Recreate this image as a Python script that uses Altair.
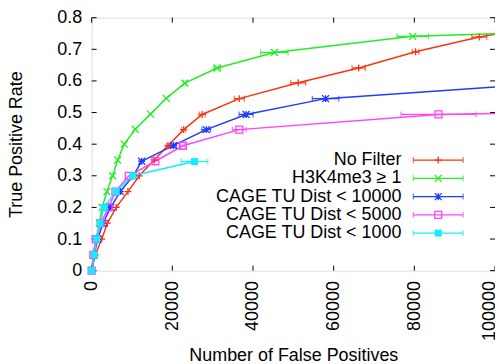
import altair as alt
import pandas as pd

series_names = ["No Filter", "H3K4me3 ≥ 1", "CAGE TU Dist < 10000",
                "CAGE TU Dist < 5000", "CAGE TU Dist < 1000"]
series_colors = ["#ff3311", "#22ee22", "#1f3cff", "#ff44ff", "#11eeff"]

# No Filter
red_x = [0, 900, 2500, 3900, 6100, 9000, 11800, 15500, 18900, 22800, 27400, 36600, 51200, 66200, 80300, 96100]
red_y = [0, 0.05, 0.1, 0.15, 0.2, 0.25, 0.3, 0.35, 0.395, 0.446, 0.494, 0.544, 0.594, 0.641, 0.692, 0.739]
red_err = [0, 0, 0, 0, 0, 0, 0, 0, 300, 500, 750, 1250, 1850, 1650, 850, 1850]
# H3K4me3 >= 1
green_x = [0, 420, 1100, 1900, 2600, 3800, 5200, 6450, 8100, 10800, 14600, 18500, 23100, 31100, 45300, 79600]
green_y = [0, 0.05, 0.1, 0.15, 0.2, 0.25, 0.3, 0.35, 0.4, 0.447, 0.495, 0.545, 0.593, 0.641, 0.69, 0.741]
green_err = [0, 0, 0, 0, 0, 0, 0, 0, 0, 0, 0, 0, 300, 800, 3400, 3900]
# CAGE TU Dist < 10000
blue_x = [0, 600, 1500, 2800, 4700, 7100, 10300, 12400, 20300, 28400, 38300, 58000]
blue_y = [0, 0.05, 0.1, 0.15, 0.2, 0.25, 0.3, 0.346, 0.396, 0.446, 0.494, 0.544]
blue_err = [0, 0, 0, 0, 0, 0, 0, 0, 700, 1100, 1750, 3300]
# CAGE TU Dist < 5000
pink_x = [0, 420, 1000, 2250, 4200, 5900, 9200, 15800, 22600, 36600, 86000]
pink_y = [0, 0.05, 0.1, 0.15, 0.2, 0.25, 0.3, 0.346, 0.395, 0.446, 0.494]
pink_err = [0, 0, 0, 0, 0, 0, 0, 0, 600, 1700, 9300]
# CAGE TU Dist < 1000
cyan_x = [0, 600, 1240, 2080, 3080, 6050, 10170, 25500]
cyan_y = [0, 0.05, 0.1, 0.15, 0.2, 0.25, 0.3, 0.345]
cyan_err = [0, 0, 0, 0, 0, 0, 0, 3300]

# where each line leaves the plot on the right edge (no marker there)
edge_x = [100000, 100000, 100000, 100000]
edge_y = [0.748, 0.749, 0.581, 0.497]

x_ticks = [0, 20000, 40000, 60000, 80000, 100000]
y_ticks = [0, 0.1, 0.2, 0.3, 0.4, 0.5, 0.6, 0.7, 0.8]

all_x = [red_x, green_x, blue_x, pink_x, cyan_x]
all_y = [red_y, green_y, blue_y, pink_y, cyan_y]
all_e = [red_err, green_err, blue_err, pink_err, cyan_err]

pts_rows, line_rows = [], []
for s, xs, ys, es in zip(series_names, all_x, all_y, all_e):
    for i, (x, y, e) in enumerate(zip(xs, ys, es)):
        pts_rows.append({"series": s, "x": x, "y": y, "xlo": x - e, "xhi": x + e, "err": e})
        line_rows.append({"series": s, "x": x, "y": y, "i": i})
for s, x, y in zip(series_names, edge_x, edge_y):
    line_rows.append({"series": s, "x": x, "y": y, "i": 999})
pts = pd.DataFrame(pts_rows)
lines = pd.DataFrame(line_rows)
errs = pts[pts["err"] > 0]
caps = pd.concat([
    errs[["series", "y", "xlo"]].rename(columns={"xlo": "cx"}),
    errs[["series", "y", "xhi"]].rename(columns={"xhi": "cx"}),
])

FONT = "Liberation Sans"
xscale = alt.Scale(domain=[0, 100000], nice=False, zero=False)
yscale = alt.Scale(domain=[0, 0.8], nice=False, zero=False)
cscale = alt.Scale(domain=series_names, range=series_colors)

W, H = 405, 254

xaxis = alt.Axis(
    values=x_ticks, format="d", labelAngle=-90, labelAlign="right", labelBaseline="middle",
    labelPadding=10, ticks=False, domain=False, grid=False,
    labelOffset={"condition": {"test": "datum.value == 100000", "value": -5}, "value": 0},
    title="Number of False Positives", titleX=W / 2, titleY=90,
    titleBaseline="alphabetic", titleAlign="center", titleFontWeight="normal",
    labelFontSize=18, titleFontSize=18, labelFont=FONT, titleFont=FONT,
    labelColor="black", titleColor="black", labelFlush=False, labelOverlap=False)
yaxis = alt.Axis(
    values=y_ticks, format=".1~f", labelPadding=10, ticks=False, domain=False, grid=False,
    title="True Positive Rate", titleX=-75, titleY=H / 2, titleAngle=270,
    titleBaseline="middle", titleAlign="center", titleFontWeight="normal",
    labelFontSize=18, titleFontSize=18, labelFont=FONT, titleFont=FONT,
    labelColor="black", titleColor="black", labelFlush=False, labelOverlap=False)
col = alt.Color("series:N", scale=cscale, legend=None)


def X(field):
    return alt.X(field, scale=xscale, axis=xaxis)


def Y(field):
    return alt.Y(field, scale=yscale, axis=yaxis)


line_layer = alt.Chart(lines).mark_line(strokeWidth=1.5).encode(
    x=X("x:Q"), y=Y("y:Q"), color=col, order="i:Q", detail="series:N")

err_layer = alt.Chart(errs).mark_rule(strokeWidth=1.2).encode(
    x=X("xlo:Q"), x2="xhi:Q", y=Y("y:Q"), color=col)
cap_layer = alt.Chart(caps).mark_tick(orient="vertical", size=6, thickness=1.2).encode(
    x=X("cx:Q"), y=Y("y:Q"), color=col)

marker_paths = [
    "M-1,0H1M0,-1V1",
    "M-1,-1L1,1M-1,1L1,-1",
    "M-1,0H1M0,-1V1M-1,-1L1,1M-1,1L1,-1",
    "M-1,-1H1V1H-1Z",
    "M-1,-1H1V1H-1Z",
]
marker_filled = [False, False, False, False, True]
point_layers = []
for s, p, f in zip(series_names, marker_paths, marker_filled):
    point_layers.append(
        alt.Chart(pts[pts["series"] == s]).mark_point(
            shape=p, size=49, filled=f, strokeWidth=1.3, opacity=1).encode(
            x=X("x:Q"), y=Y("y:Q"), color=col))

tick_x_df = pd.DataFrame({"v": x_ticks})
tick_y_df = pd.DataFrame({"v": y_ticks})
tb = alt.Chart(tick_x_df).mark_rule(color="black", strokeWidth=1).encode(
    x=X("v:Q"), y=alt.value(H), y2=alt.value(H - 5))
tt = alt.Chart(tick_x_df).mark_rule(color="black", strokeWidth=1).encode(
    x=X("v:Q"), y=alt.value(0), y2=alt.value(5))
tl = alt.Chart(tick_y_df).mark_rule(color="black", strokeWidth=1).encode(
    y=Y("v:Q"), x=alt.value(0), x2=alt.value(5))
tr = alt.Chart(tick_y_df).mark_rule(color="black", strokeWidth=1).encode(
    y=Y("v:Q"), x=alt.value(W), x2=alt.value(W - 5))

main = alt.layer(line_layer, tb, tt, tl, tr, err_layer, cap_layer, *point_layers)

# ---- key (legend) inside the plot, top right: label, then line sample with error bar
leg_df = pd.DataFrame({"series": series_names})
rowY = alt.Y("series:N", scale=alt.Scale(type="point", domain=series_names,
                                         range=[143, 216.3], padding=0), axis=None)
leg_text = alt.Chart(leg_df).mark_text(
    align="right", baseline="middle", fontSize=18, font=FONT, color="black").encode(
    x=alt.value(311), y=rowY, text="series:N")
leg_rule = alt.Chart(leg_df).mark_rule(strokeWidth=1.2).encode(
    x=alt.value(323), x2=alt.value(373), y=rowY, color=col)
leg_cap1 = alt.Chart(leg_df).mark_tick(orient="vertical", size=6, thickness=1.2).encode(
    x=alt.value(323), y=rowY, color=col)
leg_cap2 = alt.Chart(leg_df).mark_tick(orient="vertical", size=6, thickness=1.2).encode(
    x=alt.value(373), y=rowY, color=col)
leg_marks = []
for s, p, f in zip(series_names, marker_paths, marker_filled):
    leg_marks.append(
        alt.Chart(leg_df[leg_df["series"] == s]).mark_point(
            shape=p, size=49, filled=f, strokeWidth=1.3, opacity=1).encode(
            x=alt.value(348), y=rowY, color=col))
key = alt.layer(leg_text, leg_rule, leg_cap1, leg_cap2, *leg_marks)

chart = alt.layer(main, key).resolve_scale(y="independent").properties(
    width=W, height=H, autosize=alt.AutoSizeParams(type="none"),
    padding={"left": 84, "top": 9, "right": 0, "bottom": 93},
).configure_view(stroke="black", strokeWidth=1.2).configure(background="white")

chart.save("out.html", embed_options={"renderer": "svg", "actions": False})
